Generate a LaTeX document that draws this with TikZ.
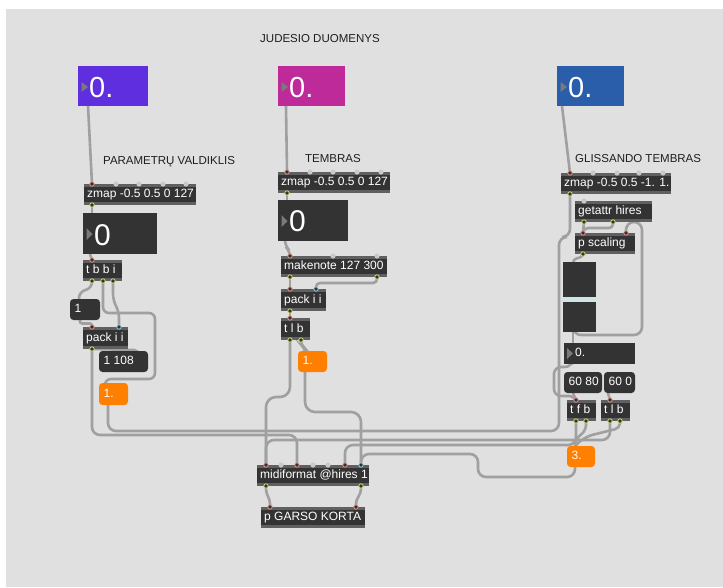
\documentclass[tikz,border=0pt]{standalone}
\usepackage{fontspec}
\setmainfont{Liberation Sans}
\usetikzlibrary{calc}
\definecolor{panel}{HTML}{E0E0E0}
\definecolor{objbody}{HTML}{333333}
\definecolor{objstrip}{HTML}{606060}
\definecolor{cordc}{HTML}{A0A0A0}
\definecolor{hotin}{HTML}{E39488}
\definecolor{coldin}{HTML}{8CD2E2}
\definecolor{outc}{HTML}{CDD66E}
\definecolor{freein}{HTML}{C9C9C9}
\definecolor{orangebox}{HTML}{FF8000}
\definecolor{purplebox}{HTML}{5F2FDF}
\definecolor{magentabox}{HTML}{BE2A99}
\definecolor{bluebox}{HTML}{2A5EAA}
\definecolor{knob}{HTML}{CFE3E8}
\definecolor{tri}{HTML}{7A7A7A}
\definecolor{commentc}{HTML}{1E1E1E}
\pgfdeclarelayer{back}
\pgfdeclarelayer{cordlayer}
\pgfsetlayers{back,cordlayer,main}
\tikzset{
  mbox/.style={inner sep=0pt, outer sep=0pt, draw=none, anchor=north west},
  objtext/.style={inner sep=0pt, text=white, font=\fontsize{12}{14}\selectfont, text height=8.8pt, text depth=2.5pt, anchor=west},
  cord/.style={draw=cordc, line width=2.6pt, rounded corners=6pt, line cap=round},
  comment/.style={inner sep=0pt, text=commentc, font=\fontsize{11.5}{13}\selectfont, anchor=west},
  hot/.style={fill=objbody, draw=hotin, line width=0.8pt},
  cold/.style={fill=objbody, draw=coldin, line width=0.8pt},
  outp/.style={fill=objbody, draw=outc, line width=0.8pt},
}
% object box with strips: name, x1, y1, x2, y2, text
\newcommand{\mobj}[6]{%
  \node[mbox, fill=objbody, minimum width={#4pt-#2pt}, minimum height={#5pt-#3pt}] (#1) at (#2,#3) {};
  \fill[objstrip] (#1.north west) rectangle ([yshift=-3pt]#1.north east);
  \fill[objstrip] (#1.south west) rectangle ([yshift=3pt]#1.south east);
  \node[objtext] (#1-t) at ([xshift=3pt]#1.west) {#6};}
% message / number box (rounded): name, x1, y1, x2, y2, text, fill
\newcommand{\mmsg}[7]{%
  \node[mbox, fill=#7, rounded corners=3.5pt, minimum width={#4pt-#2pt}, minimum height={#5pt-#3pt}] (#1) at (#2,#3) {};
  \node[objtext] (#1-t) at ([xshift=4.5pt]#1.west) {#6};}
% port: name, x, y, style
\newcommand{\prt}[4]{\coordinate (#1) at (#2,#3); \path[#4] (#1) circle[radius=2.2pt];}
\newcommand{\fprt}[2]{\fill[freein] (#1,#2) circle[radius=2.6pt];}
\begin{document}
\begin{tikzpicture}[x=1pt,y=-1pt]
\useasboundingbox (0,0) rectangle (723,587);
\begin{pgfonlayer}{back}
  \fill[white] (0,0) rectangle (723,587);
  \fill[panel] (5.5,9) rectangle (723,587);
\end{pgfonlayer}

% comments
\node[comment] (c-jud) at (260,39) {JUDESIO DUOMENYS};
\node[comment] (c-par) at (103,162) {PARAMETRŲ VALDIKLIS};
\node[comment] (c-tem) at (305,159) {TEMBRAS};
\node[comment] (c-gli) at (575,159) {GLISSANDO TEMBRAS};

% coloured number boxes
\node[mbox, fill=purplebox, minimum width=70pt, minimum height=40pt] (pu) at (78,66) {};
\fill[tri] (81.5,82) -- (88,87) -- (81.5,92) -- cycle;
\node[inner sep=0pt, text=white, font=\fontsize{29}{31}\selectfont, anchor=base west] (pu-t) at (89,97.5) {0.};
\node[mbox, fill=magentabox, minimum width=67pt, minimum height=40pt] (mg) at (278,66) {};
\fill[tri] (281.5,82) -- (288,87) -- (281.5,92) -- cycle;
\node[inner sep=0pt, text=white, font=\fontsize{29}{31}\selectfont, anchor=base west] (mg-t) at (289,97.5) {0.};
\node[mbox, fill=bluebox, minimum width=67pt, minimum height=40pt] (bl) at (557,66) {};
\fill[tri] (560.5,82) -- (567,87) -- (560.5,92) -- cycle;
\node[inner sep=0pt, text=white, font=\fontsize{29}{31}\selectfont, anchor=base west] (bl-t) at (568,97.5) {0.};

% big number boxes
\node[mbox, fill=objbody, minimum width=74pt, minimum height=41pt] (numl) at (83,213) {};
\fill[tri] (86.5,228) -- (92.5,234) -- (86.5,240) -- cycle;
\node[inner sep=0pt, text=white, font=\fontsize{30}{32}\selectfont, anchor=base west] (numl-t) at (94,245) {0};
\node[mbox, fill=objbody, minimum width=70pt, minimum height=41pt] (numm) at (278,200) {};
\fill[tri] (281.5,215) -- (287.5,221) -- (281.5,227) -- cycle;
\node[inner sep=0pt, text=white, font=\fontsize{30}{32}\selectfont, anchor=base west] (numm-t) at (289,231.5) {0};

% objects
\mobj{zl}{84}{184}{196}{205}{zmap -0.5 0.5 0 127}
\mobj{tbbi}{83}{260}{122}{281}{t b b i}
\mobj{packl}{83}{327}{128}{349}{pack i i}
\mobj{zm}{278}{172}{390}{193}{zmap -0.5 0.5 0 127}
\mobj{mkn}{281}{256}{387}{277}{makenote 127 300}
\mobj{packm}{281}{289}{326}{311}{pack i i}
\mobj{tlbm}{281}{318}{310}{340}{t l b}
\mobj{zr}{561}{173}{671}{194}{zmap -0.5 0.5 -1. 1.}
\mobj{ga}{575}{201}{652}{222}{getattr hires}
\mobj{ps}{575}{233}{635}{254}{p scaling}
\mobj{tfb}{567}{400}{596}{421}{t f b}
\mobj{tlbr}{601}{400}{630}{421}{t l b}
\mobj{midi}{257}{465}{369}{486}{midiformat @hires 1}
\mobj{garso}{261}{507}{365}{528}{p GARSO KORTA}

% messages and small number boxes
\mmsg{msg1}{70}{299}{100}{320}{1}{objbody}
\mmsg{m1108}{99}{351}{148}{372}{1 108}{objbody}
\mmsg{m6080}{564}{372}{602}{393}{60 80}{objbody}
\mmsg{m600}{604}{372}{635}{393}{60 0}{objbody}
\mmsg{orl}{99}{383}{128}{405}{1.}{orangebox}
\mmsg{orm}{298}{351}{327}{372}{1.}{orangebox}
\mmsg{or3}{567}{446}{595}{467}{3.}{orangebox}

% slider and float box
\node[mbox, fill=objbody, minimum width=33pt, minimum height=70pt] (sl) at (563,262) {};
\fill[knob] (563,297) rectangle (596,302);
\node[mbox, fill=objbody, minimum width=71pt, minimum height=21pt] (fl) at (564,343) {};
\fill[tri] (567,348) -- (573,353.5) -- (567,359) -- cycle;
\node[objtext] (fl-t) at (575,353.5) {0.};

% ports
\prt{zl-i0}{92}{184}{hot} \fprt{116}{184} \fprt{139}{184} \fprt{163}{184} \fprt{186}{184}
\prt{zl-o}{92}{205}{outp}
\prt{tbbi-i}{92}{260}{hot}
\prt{tbbi-o0}{92}{281}{outp} \prt{tbbi-o1}{103}{281}{outp} \prt{tbbi-o2}{113}{281}{outp}
\prt{packl-i0}{92}{327}{hot} \prt{packl-i1}{119}{327}{cold} \prt{packl-o}{92}{349}{outp}
\prt{zm-i0}{287}{172}{hot} \fprt{310}{172} \fprt{333}{172} \fprt{357}{172} \fprt{381}{172}
\prt{zm-o}{287}{193}{outp}
\prt{mkn-i0}{290}{256}{hot} \fprt{333}{256} \fprt{377}{256}
\prt{mkn-o0}{290}{277}{outp} \prt{mkn-o1}{377}{277}{outp}
\prt{packm-i0}{290}{289}{hot} \prt{packm-i1}{316}{289}{cold} \prt{packm-o}{290}{311}{outp}
\prt{tlbm-i}{290}{318}{hot} \prt{tlbm-o0}{290}{340}{outp} \prt{tlbm-o1}{301}{340}{outp}
\prt{zr-i0}{570}{173}{hot} \fprt{593}{173} \fprt{617}{173} \fprt{639}{173} \fprt{663}{173}
\prt{zr-o}{570}{194}{outp}
\fprt{584}{201}
\prt{ga-o0}{584}{222}{outp} \prt{ga-o1}{613}{222}{outp}
\prt{ps-i0}{583}{233}{hot} \prt{ps-i1}{626}{233}{hot} \prt{ps-o}{583}{254}{outp}
\prt{tfb-i}{576}{400}{hot} \prt{tfb-o0}{576}{421}{outp} \prt{tfb-o1}{586}{421}{outp}
\prt{tlbr-i}{610}{400}{hot} \prt{tlbr-o0}{610}{421}{outp} \prt{tlbr-o1}{620}{421}{outp}
\prt{midi-i0}{266}{465}{hot} \fprt{281}{465} \prt{midi-i2}{297}{465}{hot} \fprt{313}{465} \fprt{328}{465}
\prt{midi-i5}{345}{465}{hot} \prt{midi-i6}{361}{465}{cold}
\prt{midi-o0}{266}{486}{outp} \prt{midi-o1}{361}{486}{outp}
\prt{garso-i0}{270}{507}{hot} \prt{garso-i1}{356}{507}{hot}

% plain cord ends
\coordinate (pu-o) at (88,106);
\coordinate (mg-o) at (286,106);
\coordinate (bl-o) at (562,106);
\coordinate (numl-i) at (92,213);
\coordinate (numl-o) at (90,254);
\coordinate (numm-i) at (287,200);
\coordinate (numm-o) at (285,241);
\coordinate (msg1-i) at (79,299);
\coordinate (msg1-o) at (80,320);
\coordinate (m1108-i) at (138,352);
\coordinate (orl-i) at (105,384);
\coordinate (orl-o) at (108,405);
\coordinate (orm-i) at (305,352);
\coordinate (orm-o) at (305,372);
\coordinate (sl-i) at (573,262);
\coordinate (sl-o) at (573,332);
\coordinate (fl-i) at (573,343);
\coordinate (fl-o) at (572,364);
\coordinate (m6080-o) at (573,393);
\coordinate (m600-o) at (608,393);
\coordinate (or3-i) at (575,447);
\coordinate (or3-o) at (575,467);

\begin{pgfonlayer}{cordlayer}
% left column
\draw[cord] (pu-o) -- (zl-i0);
\draw[cord] (zl-o) -- (numl-i);
\draw[cord] (numl-o) -- (tbbi-i);
\draw[cord] (tbbi-o0) -- (92,288) -- (79,292) -- (msg1-i);
\draw[cord] (tbbi-o1) -- (103,313) -- (155,313) -- (155,379) -- (105,379) -- (orl-i);
\draw[cord] (tbbi-o2) -- (113,300) -- (119,312) -- (packl-i1);
\draw[cord, rounded corners=2pt] (msg1-o) -- (80,323.5) -- (92,323.5) -- (packl-i0);
\draw[cord, rounded corners=2pt] (packl-o) -- (136,350) -- (m1108-i);
\draw[cord, rounded corners=8pt] (packl-o) -- (92,435) -- (297,435) -- (midi-i2);
\draw[cord, rounded corners=8pt] (orl-o) -- (108,431) -- (559,431) -- (559,237) -- (570,237) -- (zr-o);
% middle column
\draw[cord] (mg-o) -- (zm-i0);
\draw[cord] (zm-o) -- (numm-i);
\draw[cord] (numm-o) -- (285,246) -- (290,251) -- (mkn-i0);
\draw[cord] (mkn-o0) -- (packm-i0);
\draw[cord, rounded corners=4pt] (mkn-o1) -- (377,283) -- (316,283) -- (packm-i1);
\draw[cord] (packm-o) -- (tlbm-i);
\draw[cord, rounded corners=4pt] (tlbm-o1) -- (301,345) -- (305,348) -- (orm-i);
\draw[cord, rounded corners=10pt] (tlbm-o0) -- (290,397) -- (266,397) -- (midi-i0);
\draw[cord, rounded corners=10pt] (orm-o) -- (305,412) -- (361,412) -- (midi-i6);
% right column
\draw[cord] (bl-o) -- (zr-i0);
\draw[cord] (ga-o0) -- (ps-i0);
\draw[cord, rounded corners=4pt] (ga-o1) -- (613,228) -- (584,228) -- (ps-i0);
\draw[cord, rounded corners=4pt] (ps-o) -- (583,257) -- (573,259) -- (sl-i);
\draw[cord] (sl-o) -- (fl-i);
\draw[cord, rounded corners=8pt] (sl-o) -- (573,335) -- (642,335) -- (642,222) -- (626,222) -- (ps-i1);
\draw[cord, rounded corners=7pt] (fl-o) -- (572,367) -- (554,367) -- (554,396) -- (576,396) -- (tfb-i);
\draw[cord] (m6080-o) -- (tfb-i);
\draw[cord] (m600-o) -- (tlbr-i);
\draw[cord, rounded corners=5pt] (tfb-o1) -- (586,430) -- (575,440) -- (or3-i);
\draw[cord, rounded corners=5pt] (tlbr-o1) -- (620,428) -- (588,436) -- (576,444) -- (or3-i);
\draw[cord, rounded corners=8pt] (tlbr-o0) -- (610,440) -- (266,440) -- (midi-i0);
\draw[cord, rounded corners=8pt] (tfb-o0) -- (576,445) -- (345,445) -- (midi-i5);
\draw[cord, rounded corners=8pt] (or3-o) -- (575,477) -- (478,477) -- (478,454) -- (361,454) -- (midi-i6);
% bottom
\draw[cord, rounded corners=4pt] (midi-o0) -- (266,493) -- (270,500) -- (garso-i0);
\draw[cord, rounded corners=4pt] (midi-o1) -- (361,493) -- (356,500) -- (garso-i1);
\end{pgfonlayer}
\end{tikzpicture}
\end{document}
